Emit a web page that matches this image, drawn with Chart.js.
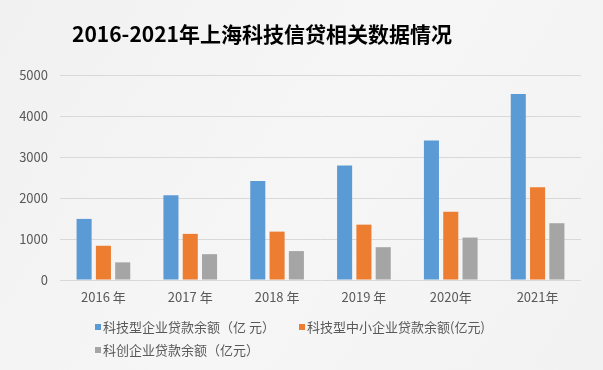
<!DOCTYPE html>
<html>
<head>
<meta charset="utf-8">
<script src="https://cdn.jsdelivr.net/npm/chart.js@4/dist/chart.umd.min.js"></script>
<style>
  html, body { margin: 0; padding: 0; background: #f4f4f4; }
  #wrap { width: 603px; height: 370px; position: relative; }
</style>
</head>
<body>
<div id="wrap"><canvas id="loanChart" width="603" height="370"></canvas></div>
<script>
// DATA
const years = ['2016 年', '2017 年', '2018 年', '2019 年', '2020年', '2021年'];
const techLoans = [1490, 2065, 2415, 2795, 3405, 4535];
const smeLoans = [835, 1125, 1180, 1350, 1665, 2260];
const innovLoans = [430, 630, 705, 800, 1035, 1385];
const yTicks = [0, 1000, 2000, 3000, 4000, 5000];
const seriesNames = ['科技型企业贷款余额（亿 元）', '科技型中小企业贷款余额(亿元)', '科创企业贷款余额（亿元）'];
const titleText = '2016-2021年上海科技信贷相关数据情况';

const colors = ['#5B9BD5', '#ED7D31', '#A5A5A5'];
const fontFamily = '"Noto Sans CJK SC", "Noto Sans", sans-serif';

// background, title and legend drawn by hand
const pagePlugin = {
    id: 'pagePlugin',
    beforeDraw(chart) {
        const ctx = chart.ctx;
        const g = ctx.createLinearGradient(0, 0, 603, 370);
        g.addColorStop(0, '#f1f1f1');
        g.addColorStop(0.5, '#f6f6f6');
        g.addColorStop(1, '#f2f2f2');
        ctx.save();
        ctx.fillStyle = g;
        ctx.fillRect(0, 0, chart.width, chart.height);
        ctx.restore();
    },
    afterDraw(chart) {
        const ctx = chart.ctx;
        ctx.save();
        ctx.fillStyle = '#000000';
        ctx.font = 'bold 21px ' + fontFamily;
        ctx.textAlign = 'center';
        ctx.textBaseline = 'middle';
        ctx.fillText(titleText, 262, 34);

        const spots = [[95, 327], [299, 327], [95, 350]];
        ctx.font = '13px ' + fontFamily;
        ctx.textAlign = 'left';
        seriesNames.forEach(function(name, i) {
            const x = spots[i][0], y = spots[i][1];
            ctx.fillStyle = colors[i];
            ctx.fillRect(x, y - 3, 6, 6);
            ctx.fillStyle = '#595959';
            ctx.fillText(name, x + 8, y);
        });
        ctx.restore();
    }
};

const chartData = {
    labels: years,
    datasets: [techLoans, smeLoans, innovLoans].map(function(values, i) {
        return {
            label: seriesNames[i],
            data: values,
            backgroundColor: colors[i],
            categoryPercentage: 0.667,
            barPercentage: 0.78
        };
    })
};

const chartOptions = {
    responsive: false,
    animation: false,
    layout: {
        padding: { top: 75, right: 22, bottom: 0, left: 0 }
    },
    scales: {
        y: {
            min: 0,
            max: 5000,
            afterBuildTicks: function(scale) {
                scale.ticks = yTicks.map(function(v) { return { value: v }; });
            },
            afterFit: function(scale) { scale.width = 60; },
            ticks: {
                color: '#595959',
                padding: 12,
                font: { family: fontFamily, size: 13 },
                callback: function(value) { return String(value); }
            },
            grid: {
                color: '#d9d9d9',
                lineWidth: 1,
                drawTicks: false
            },
            border: { display: false }
        },
        x: {
            afterFit: function(scale) { scale.height = 90; },
            ticks: {
                color: '#595959',
                padding: 9,
                font: { family: fontFamily, size: 13 }
            },
            grid: {
                display: false,
                drawTicks: false
            },
            border: { display: false }
        }
    },
    plugins: {
        legend: { display: false },
        tooltip: { enabled: false }
    }
};

const ctxLoan = document.getElementById('loanChart').getContext('2d');
const loanChart = new Chart(ctxLoan, {
    type: 'bar',
    data: chartData,
    options: chartOptions,
    plugins: [pagePlugin]
});
</script>
</body>
</html>
